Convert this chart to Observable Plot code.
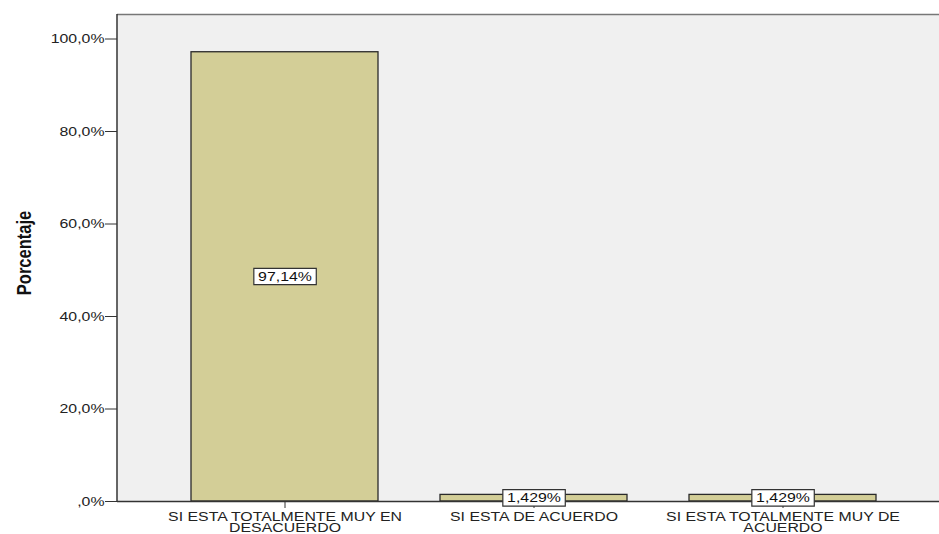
<!DOCTYPE html>
<html><head><meta charset="utf-8">
<script src="https://cdn.jsdelivr.net/npm/d3@7"></script>
<script src="https://cdn.jsdelivr.net/npm/@observablehq/plot@0.6"></script>
<style>html,body{margin:0;padding:0;background:#fff;overflow:hidden}</style>
</head><body><div id="chart"></div>
<script>
const categories = ["SI ESTA TOTALMENTE MUY EN DESACUERDO", "SI ESTA DE ACUERDO", "SI ESTA TOTALMENTE MUY DE ACUERDO"];
const tickLabels = ["SI ESTA TOTALMENTE MUY EN\nDESACUERDO", "SI ESTA DE ACUERDO", "SI ESTA TOTALMENTE MUY DE\nACUERDO"];
const values = [97.14, 1.429, 1.429];
const valueLabels = ["97,14%", "1,429%", "1,429%"];
const yTicks = [0, 20, 40, 60, 80, 100];
const yTickLabels = [",0%", "20,0%", "40,0%", "60,0%", "80,0%", "100,0%"];
const yTitle = "Porcentaje";

const data = categories.map((c, i) => ({cat: c, value: values[i], label: valueLabels[i]}));
const STRETCH = 1.22;
const YMAX = 105.3;

const chart = Plot.plot({
  width: 939, height: 534,
  marginLeft: 117, marginRight: 0, marginTop: 14, marginBottom: 33,
  style: {fontFamily: "'Liberation Sans', Arial, sans-serif", fontSize: "13px", color: "#222", background: "#fff", overflow: "visible"},
  x: {domain: categories, paddingInner: 0.25, paddingOuter: 0.272, align: 0.537, label: null},
  y: {domain: [0, YMAX], label: null},
  marks: [
    Plot.frame({fill: "#f0f0f0", stroke: null}),
    Plot.ruleY([YMAX], {stroke: "#777", strokeWidth: 1.5}),
    Plot.barY(data, {x: "cat", y: "value", fill: "#d3ce97", stroke: "#2a2a2a", strokeWidth: 1.3}),
    Plot.axisY({ticks: yTicks, tickFormat: d => yTickLabels[yTicks.indexOf(d)], tickSize: 12, tickPadding: 1, stroke: "#333", label: null}),
    Plot.axisX({tickFormat: d => tickLabels[categories.indexOf(d)], tickSize: 7, tickPadding: 5, lineHeight: 0.83, stroke: "#333", label: null}),
    Plot.ruleY([0], {stroke: "#333", strokeWidth: 1.5}),
    Plot.text(data, {x: "cat", y: d => d.value / 2, text: "label", className: "vlabel", fill: "#111"}),
    Plot.text([yTitle], {frameAnchor: "left", textAnchor: "middle", dx: -93, dy: -5, rotate: -90, fontWeight: "bold", fontSize: 16.5, className: "ytitle", fill: "#111"})
  ]
});
document.getElementById("chart").append(chart);

const root = d3.select(chart);
// left axis line, from the scales
const ys = chart.scale("y"), xs = chart.scale("x");
root.append("line")
  .attr("x1", xs.range[0]).attr("x2", xs.range[0])
  .attr("y1", ys.apply(YMAX)).attr("y2", ys.apply(0))
  .attr("stroke", "#333").attr("stroke-width", 1.5);

// horizontally widen text like the original export
const num = v => v != null && /^-?[\d.]+$/.test(v.trim());
root.selectAll("text").each(function () {
  const t = d3.select(this);
  const ax = t.attr("x"), ay = t.attr("y");
  let x = 0, y = 0;
  if (num(ax)) { x = +ax; t.attr("x", null); }
  if (num(ay)) { y = +ay; t.attr("y", null); }
  const tr = t.attr("transform") || "";
  const rotated = /rotate/.test(tr);
  t.attr("transform", `${tr} translate(${x},${y}) ${rotated ? `scale(1,${STRETCH})` : `scale(${STRETCH},1)`}`);
});

// white boxes behind value labels
root.selectAll(".vlabel text").each(function () {
  const bb = this.getBBox();
  const node = this;
  d3.select(this.parentNode).insert("rect", () => node)
    .attr("x", bb.x - 3.5).attr("y", bb.y - 1)
    .attr("width", bb.width + 7).attr("height", bb.height + 2)
    .attr("fill", "#fff").attr("stroke", "#333").attr("stroke-width", 1.2)
    .attr("vector-effect", "non-scaling-stroke")
    .attr("transform", this.getAttribute("transform"));
});
</script>
</body></html>
